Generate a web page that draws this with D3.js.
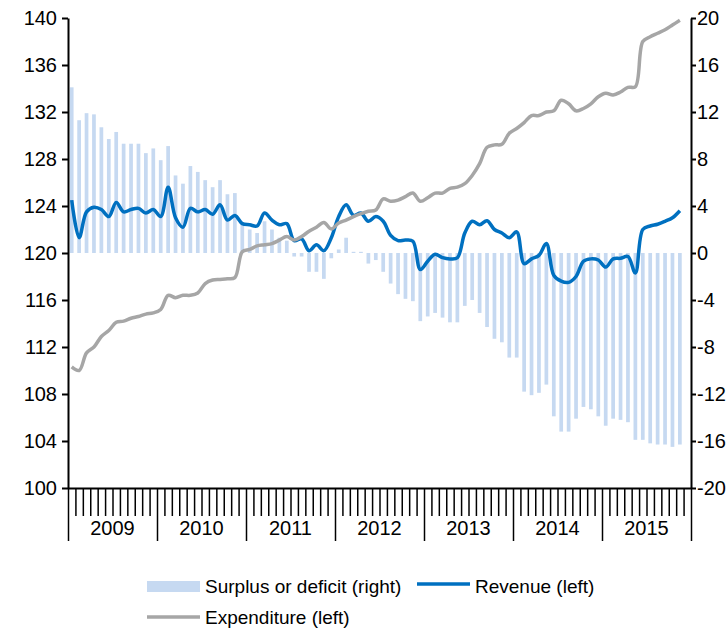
<!DOCTYPE html>
<html><head><meta charset="utf-8">
<script src="https://cdn.jsdelivr.net/npm/d3@7"></script>
<style>
body{margin:0;background:#fff}
text{font-family:"Liberation Sans",Arial,sans-serif;fill:#000}
</style>
</head><body>
<svg id="chart" width="728" height="628"></svg>
<script>
const years = ["2009","2010","2011","2012","2013","2014","2015"];
const leftTicks = [100,104,108,112,116,120,124,128,132,136,140];
const rightTicks = [-20,-16,-12,-8,-4,0,4,8,12,16,20];
// Monthly, Jan 2009 – Nov 2015
const surplus = [14.1,11.3,11.9,11.8,10.7,9.7,10.3,9.3,9.3,9.3,8.5,8.9,
  7.9,9.1,6.6,5.9,7.4,6.9,6.2,5.6,6.2,5.0,5.1,2.5,
  2.0,1.7,2.7,2.0,1.3,1.05,-0.3,-0.3,-1.6,-1.6,-2.2,-0.45,
  0.3,1.3,0.1,0.1,-0.9,-0.6,-1.6,-2.6,-3.5,-3.9,-4.1,-5.8,
  -5.4,-5.1,-5.5,-5.9,-5.9,-4.5,-4.0,-5.1,-6.3,-7.3,-7.6,-8.9,
  -8.9,-11.8,-12.1,-11.9,-11.2,-13.9,-15.2,-15.2,-14.1,-13.1,-13.3,-13.9,
  -14.7,-14.1,-14.2,-14.4,-15.9,-15.9,-16.2,-16.3,-16.3,-16.5,-16.3];
const revenue = [124.5,121.3,123.5,123.9,123.7,123.1,124.3,123.5,123.7,123.8,123.4,123.7,
  123.1,125.6,123.0,122.2,123.8,123.5,123.7,123.3,124.1,122.8,123.2,122.5,
  122.4,122.3,123.4,122.8,122.4,122.5,121.05,121.2,120.2,120.7,120.2,121.3,
  123.1,124.1,123.2,123.4,122.7,123.1,122.7,121.5,121.05,121.1,121.0,118.6,
  119.3,119.9,119.6,119.5,119.6,121.7,122.7,122.4,122.75,122.0,121.7,121.3,
  121.8,119.1,119.5,119.8,120.8,118.1,117.6,117.5,118.0,119.3,119.5,119.4,
  118.8,119.5,119.55,119.7,118.3,122.0,122.3,122.45,122.7,123.0,123.6];
const expenditure = [110.3,110.0,111.5,112.0,112.9,113.4,114.1,114.2,114.45,114.6,114.8,114.9,
  115.2,116.4,116.2,116.4,116.4,116.6,117.4,117.7,117.75,117.8,117.9,120.1,
  120.3,120.6,120.7,120.8,121.1,121.4,121.1,121.4,121.85,122.2,122.6,122.05,
  122.55,122.8,123.1,123.35,123.55,123.66,124.6,124.4,124.5,124.8,125.1,124.4,
  124.7,125.1,125.1,125.5,125.6,125.9,126.6,127.6,129.0,129.2,129.25,130.2,
  130.6,131.1,131.7,131.7,132.0,132.1,133.0,132.7,132.1,132.3,132.7,133.3,
  133.6,133.45,133.7,134.1,134.15,138.0,138.4,138.7,139.0,139.4,139.8];

const svg = d3.select("#chart");
const L = 68, R = 691, T = 18, B = 488;
const nMonths = years.length * 12;

const x = d3.scaleBand().domain(d3.range(nMonths)).range([L, R]).paddingInner(0.5).paddingOuter(0.25);
const xLin = d3.scaleLinear().domain([0, nMonths]).range([L, R]);
const yL = d3.scaleLinear().domain([100, 140]).range([B, T]);
const yR = d3.scaleLinear().domain([-20, 20]).range([B, T]);

// bars
svg.append("g").selectAll("rect").data(surplus).join("rect")
  .attr("x", (d, i) => x(i))
  .attr("width", x.bandwidth())
  .attr("y", d => yR(Math.max(0, d)))
  .attr("height", d => Math.abs(yR(d) - yR(0)))
  .attr("fill", "#c6d9f1");

const cx = i => x(i) + x.bandwidth() / 2;
const line = d3.line().x((d, i) => cx(i)).y(d => yL(d)).curve(d3.curveCatmullRom.alpha(0.5));

svg.append("path").datum(revenue).attr("d", line)
  .attr("fill", "none").attr("stroke", "#0070c0").attr("stroke-width", 3.5).attr("stroke-linejoin", "round");
svg.append("path").datum(expenditure).attr("d", line)
  .attr("fill", "none").attr("stroke", "#a6a6a6").attr("stroke-width", 3.5).attr("stroke-linejoin", "round");

// axes
const fs = "20px";
const fmt = d => String(d); // hyphen-minus as in the original
const gL = svg.append("g").attr("transform", `translate(${L},0)`)
  .call(d3.axisLeft(yL).tickValues(leftTicks).tickFormat(fmt).tickSize(6).tickSizeOuter(0).tickPadding(5));
const gR = svg.append("g").attr("transform", `translate(${R},0)`)
  .call(d3.axisRight(yR).tickValues(rightTicks).tickFormat(fmt).tickSize(5).tickSizeOuter(0).tickPadding(1));
[gL, gR].forEach(g => {
  g.select(".domain").attr("stroke", "#000").attr("stroke-width", 2);
  g.selectAll(".tick line").attr("stroke", "#000").attr("stroke-width", 2);
  g.selectAll(".tick text").style("font-size", fs).attr("font-family", null);
});

const gB = svg.append("g").attr("transform", `translate(0,${B})`)
  .call(d3.axisBottom(xLin).tickValues(d3.range(nMonths + 1)).tickSize(28).tickSizeOuter(0).tickFormat(""));
gB.select(".domain").attr("stroke", "#000").attr("stroke-width", 2);
gB.selectAll(".tick line").attr("stroke", "#000").attr("stroke-width", 1.5)
  .attr("y2", d => d % 12 === 0 ? 53 : 28);

svg.append("g").selectAll("text").data(years).join("text")
  .attr("x", (d, i) => xLin(i * 12 + 6))
  .attr("y", 535)
  .attr("text-anchor", "middle")
  .style("font-size", fs)
  .text(d => d);

// legend
const lg = svg.append("g").style("font-size", "19px");
lg.append("rect").attr("x", 147).attr("y", 581).attr("width", 53).attr("height", 11).attr("fill", "#c6d9f1");
lg.append("text").attr("x", 205).attr("y", 593).text("Surplus or deficit (right)");
lg.append("line").attr("x1", 417).attr("x2", 470).attr("y1", 584).attr("y2", 584)
  .attr("stroke", "#0070c0").attr("stroke-width", 3.5);
lg.append("text").attr("x", 475).attr("y", 593).text("Revenue (left)");
lg.append("line").attr("x1", 147).attr("x2", 200).attr("y1", 617).attr("y2", 617)
  .attr("stroke", "#a6a6a6").attr("stroke-width", 3.5);
lg.append("text").attr("x", 205).attr("y", 624).text("Expenditure (left)");
</script>
</body></html>
